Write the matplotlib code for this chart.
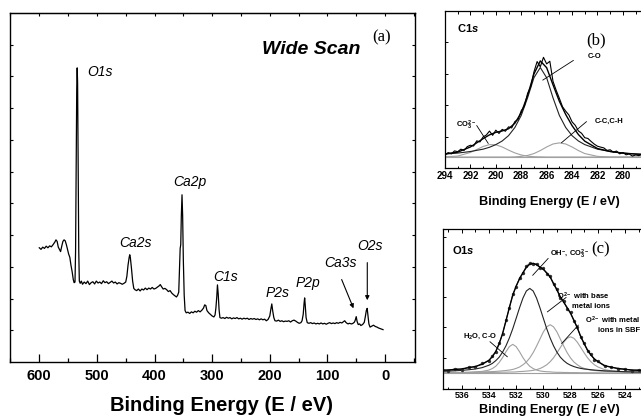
import matplotlib
matplotlib.use("Agg")
import matplotlib.pyplot as plt
from matplotlib.ticker import MultipleLocator

plt.rcParams['font.family'] = ['Liberation Sans', 'DejaVu Sans']
plt.rcParams['mathtext.fontset'] = 'custom'
plt.rcParams['mathtext.rm'] = 'Liberation Sans:bold'
plt.rcParams['mathtext.bf'] = 'Liberation Sans:bold'
plt.rcParams['mathtext.it'] = 'Liberation Sans:italic:bold'
plt.rcParams['mathtext.default'] = 'rm'

# ---- (a) wide scan ----
wide_be = [
    600, 597, 594, 591, 588, 585, 582, 579, 576, 573,
    571, 569, 567, 565, 563, 561, 559, 557, 555, 553,
    551, 549, 547, 545, 543, 541, 539.5, 538, 537, 536,
    535, 534.2, 533.5, 532.5, 531.5, 530.5, 529, 527, 525, 522,
    519, 516, 513, 510, 507, 504, 501, 498, 495, 492,
    489, 486, 483, 480, 477, 474, 471, 468, 465, 462,
    459, 456, 453, 450, 448, 446, 444, 443, 442, 440,
    438, 436, 434, 431, 428, 425, 422, 419, 416, 413,
    410, 407, 404, 401, 398, 395, 392, 390, 388, 385,
    382, 379, 376, 373, 370, 367, 364, 362, 360, 358,
    356.5, 355.5, 354.5, 353.5, 352.3, 351.2, 350, 348.5, 347, 345,
    342, 339, 336, 333, 330, 327, 324, 321, 318, 315,
    313, 311, 309, 306, 303, 300, 297, 295, 293.5, 292,
    290.8, 289.5, 288, 286.5, 284, 281, 278, 275, 272, 269,
    266, 263, 260, 257, 254, 251, 248, 245, 242, 239,
    236, 233, 230, 227, 224, 221, 218, 215, 212, 209,
    206, 203, 200, 198, 196.5, 195, 193, 191, 188, 185,
    182, 179, 176, 173, 170, 167, 164, 161, 158, 155,
    152, 149, 146, 144, 142, 140.5, 139.5, 138.5, 137, 135,
    132, 129, 126, 123, 120, 117, 114, 111, 108, 105,
    102, 99, 96, 93, 90, 87, 84, 81, 78, 75,
    72, 70, 68, 66, 64, 62, 58, 55.5, 53, 51.5,
    50, 48.5, 46.5, 44, 42, 39, 36, 34, 32.5, 31,
    29.5, 28, 26, 23, 20, 17, 14, 11, 8, 5,
    3.5]
wide_counts = [
    3.60, 3.55, 3.62, 3.58, 3.65, 3.60, 3.66, 3.63, 3.70, 3.78,
    3.85, 3.80, 3.62, 3.55, 3.48, 3.65, 3.80, 3.85, 3.82, 3.70,
    3.55, 3.40, 3.30, 3.05, 2.85, 2.60, 2.50, 2.52, 3.50, 6.00,
    8.60, 9.27, 8.80, 6.00, 3.50, 2.55, 2.48, 2.55, 2.45, 2.52,
    2.47, 2.55, 2.44, 2.50, 2.53, 2.46, 2.55, 2.49, 2.52, 2.47,
    2.56, 2.50, 2.53, 2.47, 2.51, 2.55, 2.49, 2.52, 2.46, 2.50,
    2.48, 2.45, 2.48, 2.52, 2.70, 3.05, 3.30, 3.38, 3.30, 2.95,
    2.55, 2.32, 2.28, 2.25, 2.30, 2.24, 2.30, 2.27, 2.33, 2.28,
    2.33, 2.30, 2.35, 2.30, 2.32, 2.36, 2.40, 2.44, 2.38, 2.30,
    2.32, 2.28, 2.22, 2.25, 2.17, 2.12, 2.08, 2.05, 2.10, 2.20,
    3.00, 3.58, 3.70, 4.60, 5.27, 4.60, 3.20, 2.10, 1.62, 1.55,
    1.57, 1.53, 1.58, 1.55, 1.60, 1.57, 1.62, 1.58, 1.63, 1.70,
    1.80, 1.78, 1.62, 1.55, 1.50, 1.45, 1.42, 1.48, 1.70, 2.05,
    2.43, 2.15, 1.65, 1.40, 1.38, 1.40, 1.37, 1.41, 1.38, 1.40,
    1.36, 1.39, 1.37, 1.40, 1.36, 1.38, 1.35, 1.38, 1.36, 1.38,
    1.34, 1.37, 1.35, 1.37, 1.34, 1.36, 1.33, 1.36, 1.33, 1.35,
    1.30, 1.34, 1.45, 1.68, 1.83, 1.62, 1.40, 1.30, 1.29, 1.32,
    1.28, 1.30, 1.27, 1.29, 1.28, 1.30, 1.26, 1.30, 1.32, 1.29,
    1.25, 1.22, 1.24, 1.30, 1.50, 1.85, 2.02, 1.80, 1.40, 1.24,
    1.22, 1.24, 1.21, 1.23, 1.20, 1.22, 1.20, 1.23, 1.20, 1.22,
    1.19, 1.22, 1.24, 1.21, 1.23, 1.21, 1.24, 1.22, 1.25, 1.23,
    1.27, 1.30, 1.25, 1.22, 1.20, 1.22, 1.20, 1.22, 1.26, 1.33,
    1.43, 1.28, 1.18, 1.20, 1.15, 1.18, 1.25, 1.45, 1.62, 1.69,
    1.45, 1.20, 1.10, 1.13, 1.16, 1.12, 1.10, 1.07, 1.05, 1.03,
    1.02]
wide_ticks = [600, 500, 400, 300, 200, 100, 0]
wide_labels = ['O1s', 'Ca2s', 'Ca2p', 'C1s', 'P2s', 'P2p', 'Ca3s', 'O2s']
wide_label_be = [517.3, 433.3, 338.9, 277.3, 187.2, 134.3, 77.1, 26.0]
wide_label_y = [9.15, 3.75, 5.68, 2.68, 2.18, 2.49, 3.12, 3.66]

# ---- (b) C1s ----
b_fit_be = [294, 293, 292, 291, 290.5, 290, 289.5, 289, 288.5, 288, 287.5, 287,
            286.5, 286, 285.5, 285, 284.5, 284, 283.5, 283, 282, 281, 280, 279, 278]
b_co = [8.9, 9.5, 10.5, 12.0, 13.2, 14.9, 17.2, 20.6, 25.8, 33.5, 44.7, 57.5,
        64.0, 57.5, 44.7, 33.5, 25.8, 20.6, 17.2, 14.9, 12.0, 10.5, 9.5, 8.9, 8.5]
b_co3 = [7.1, 7.6, 9.9, 13.7, 14.9, 14.8, 13.4, 11.4, 9.6, 8.3, 7.5, 7.2,
         7.1, 7.0, 7.0, 7.0, 7.0, 7.0, 7.0, 7.0, 7.0, 7.0, 7.0, 7.0, 7.0]
b_cc = [7.0, 7.0, 7.0, 7.0, 7.0, 7.0, 7.0, 7.0, 7.1, 7.4, 8.0, 9.2,
        11.1, 13.4, 15.3, 16.0, 15.3, 13.4, 11.1, 9.2, 7.4, 7.0, 7.0, 7.0, 7.0]
b_fit = [9.0, 10.1, 13.4, 18.7, 21.1, 22.7, 23.6, 25.0, 28.5, 35.2, 46.2, 59.9,
         68.2, 63.9, 53.0, 42.5, 34.1, 27.0, 21.3, 17.1, 12.4, 10.5, 9.5, 8.9, 8.5]
b_baseline = 7.0
b_data_be = [294.0, 293.75, 293.5, 293.25, 293.0, 292.75, 292.5, 292.25, 292.0,
             291.75, 291.5, 291.25, 291.0, 290.75, 290.5, 290.25, 290.0,
             289.75, 289.5, 289.25, 289.0, 288.75, 288.5, 288.25, 288.0,
             287.75, 287.5, 287.25, 287.0, 286.75, 286.5, 286.25, 286.0,
             285.75, 285.5, 285.25, 285.0, 284.75, 284.5, 284.25, 284.0,
             283.75, 283.5, 283.25, 283.0, 282.75, 282.5, 282.25, 282.0,
             281.75, 281.5, 281.25, 281.0, 280.75, 280.5, 280.25, 280.0,
             279.75, 279.5, 279.25, 279.0, 278.75, 278.5]
b_data = [8.2, 9.8, 9.0, 10.9, 10.4, 12.0, 11.2, 13.6, 14.5, 14.0, 17.3, 16.6,
          19.8, 21.0, 23.5, 20.8, 24.1, 22.0, 24.6, 23.4, 26.2, 25.5, 29.6, 30.9,
          36.5, 39.4, 47.5, 51.8, 61.2, 67.8, 64.5, 70.5, 66.3, 68.0, 55.2, 49.5,
          44.4, 39.0, 36.2, 33.8, 29.4, 27.2, 23.6, 22.1, 19.3, 18.8, 16.9, 15.2,
          13.9, 13.3, 12.8, 11.2, 11.6, 10.1, 10.8, 9.0, 9.9, 8.4, 8.9, 7.6,
          8.3, 7.9, 8.5]
b_ticks = [294, 292, 290, 288, 286, 284, 282, 280]

# ---- (c) O1s (heights above the flat background) ----
c_fit_be = [537.5, 537.0, 536.5, 536.0, 535.5, 535.0, 534.5,
            534.0, 533.75, 533.5, 533.25, 533.0, 532.75, 532.5, 532.25, 532.0,
            531.75, 531.5, 531.25, 531.0, 530.75, 530.5, 530.25, 530.0,
            529.75, 529.5, 529.25, 529.0, 528.75, 528.5, 528.25, 528.0,
            527.75, 527.5, 527.25, 527.0, 526.75, 526.5, 526.25, 526.0,
            525.5, 525.0, 524.5, 524.0, 523.5, 523.0, 522.5, 522.0]
c_h2o = [0.2, 0.3, 0.3, 0.4, 0.5, 0.8, 1.1,
         2.0, 3.0, 4.5, 7.0, 10.2, 14.1, 17.5, 19.0, 17.5, 14.1, 10.2, 7.0, 4.5,
         3.0, 2.0, 1.4, 1.1, 0.9, 0.8, 0.6, 0.5, 0.5, 0.4, 0.4, 0.3, 0.3, 0.3,
         0.2, 0.2, 0.2, 0.2, 0.2, 0.2,
         0.1, 0.1, 0.1, 0.1, 0.1, 0.1, 0.1, 0.1]
c_oh = [1.1, 1.3, 1.5, 1.8, 2.2, 2.7, 3.6,
        5.2, 6.4, 8.2, 10.5, 13.8, 18.0, 23.2, 29.3, 36.2, 43.2, 49.6, 54.3, 56.0,
        54.3, 49.6, 43.2, 36.2, 29.3, 23.2, 18.0, 13.8, 10.5, 8.2, 6.4, 5.2, 4.3,
        3.6, 3.1, 2.7, 2.5, 2.2, 2.0, 1.8,
        1.5, 1.3, 1.1, 0.9, 0.8, 0.7, 0.6, 0.6]
c_base = [0.3, 0.3, 0.3, 0.4, 0.5, 0.6, 0.8,
          0.9, 1.0, 1.1, 1.3, 1.5, 1.7, 2.0, 2.4, 3.1, 4.0, 5.5, 7.3, 10.0,
          13.5, 17.8, 22.5, 27.2, 30.6, 32.0, 30.6, 27.2, 22.5, 17.8, 13.5, 10.0,
          7.3, 5.5, 4.0, 3.1, 2.4, 2.0, 1.7, 1.5,
          1.1, 0.9, 0.8, 0.6, 0.5, 0.4, 0.3, 0.3]
c_sbf = [0.2, 0.2, 0.2, 0.2, 0.3, 0.3, 0.3,
         0.4, 0.4, 0.5, 0.5, 0.6, 0.6, 0.7, 0.7, 0.8, 1.0, 1.1, 1.3, 1.5,
         1.8, 2.3, 3.0, 4.1, 5.5, 7.5, 10.1, 13.4, 16.9, 20.4, 23.0, 24.0,
         23.0, 20.4, 16.9, 13.4, 10.1, 7.5, 5.5, 4.1,
         2.3, 1.5, 1.1, 0.8, 0.7, 0.6, 0.5, 0.4]
c_fit = [1.8, 2.1, 2.3, 2.8, 3.5, 4.4, 5.8,
         8.5, 10.8, 14.3, 19.3, 26.1, 34.4, 43.4, 51.4, 57.6, 62.3, 66.4, 69.9, 72.0,
         72.6, 71.7, 70.1, 68.6, 66.3, 63.5, 59.3, 54.9, 50.4, 46.8, 43.3, 39.5,
         34.9, 29.8, 24.2, 19.4, 15.2, 11.9, 9.4, 7.6,
         5.0, 3.8, 3.1, 2.4, 2.1, 1.8, 1.5, 1.4]
c_data = [2.6, 1.5, 3.0, 2.2, 4.1, 3.9, 6.5,
          8.0, 11.6, 13.8, 20.0, 25.6, 35.1, 42.8, 52.3, 57.0, 63.1, 66.0, 70.8, 72.6,
          71.9, 72.3, 69.5, 69.2, 65.7, 64.1, 58.6, 55.6, 49.8, 47.5, 42.6, 40.1,
          34.3, 30.4, 23.6, 19.9, 14.6, 12.4, 8.9, 8.0,
          4.5, 4.3, 2.6, 2.9, 1.6, 2.2, 1.2, 1.7]
c_baseline = 9.7
c_ticks = [536, 534, 532, 530, 528, 526, 524]

W, H = 641, 419
fig = plt.figure(figsize=(W / 100, H / 100), dpi=100)


def px_axes(left, top, right, bottom):
    # axes placed by pixel edges of the 641x419 canvas
    return fig.add_axes([left / W, 1 - bottom / H, (right - left) / W, (bottom - top) / H])


def style_spines(ax, lw):
    for s in ax.spines.values():
        s.set_linewidth(lw)


# ===== panel (a) =====
ax = px_axes(10, 13, 415, 362)
ax.plot(wide_be, wide_counts, color='black', lw=0.9)
ax.set_xlim(650.8, -52)
ax.set_ylim(0, 11)
ax.set_xticks(wide_ticks)
ax.set_xticklabels([str(t) for t in wide_ticks], fontweight='bold', fontsize=10.5)
ax.xaxis.set_minor_locator(MultipleLocator(50))
ax.tick_params(axis='x', which='major', direction='in', length=6, width=0.9, pad=5)
ax.tick_params(axis='x', which='minor', direction='in', length=3, width=0.9)
ax.set_yticks(range(1, 11))
ax.tick_params(axis='y', direction='in', length=2.5, width=0.8,
               left=True, right=True, labelleft=False)
top = ax.secondary_xaxis('top')
top.xaxis.set_major_locator(MultipleLocator(50))
top.tick_params(direction='in', length=2.5, width=0.8, labeltop=False)
style_spines(ax, 1.0)

for name, e, y in zip(wide_labels, wide_label_be, wide_label_y):
    ha = 'left' if name == 'O1s' else 'center'
    ax.text(e, y, name, style='italic', fontsize=10, ha=ha, va='center')
ax.annotate('', xy=(52.9, 1.61), xytext=(77.1, 2.68),
            arrowprops=dict(arrowstyle='-|>', color='black', lw=0.8, mutation_scale=6))
ax.annotate('', xy=(30.8, 1.86), xytext=(30.8, 3.22),
            arrowprops=dict(arrowstyle='-|>', color='black', lw=0.8, mutation_scale=6))
ax.text(128.3, 9.84, 'Wide Scan', fontsize=14, fontweight='bold', style='italic',
        ha='center', va='center')
ax.text(6.1, 10.22, '(a)', family='Liberation Serif', fontsize=12, ha='center', va='center')
fig.text(221 / W, 1 - 405 / H, 'Binding Energy (E / eV)', fontsize=14.5,
         fontweight='bold', ha='center', va='center')

grey = '#a0a0a0'

# ===== panel (b) =====
axb = px_axes(445, 11, 661, 168)
axb.axhline(b_baseline, color=grey, lw=0.8)
axb.plot(b_fit_be, b_co3, color=grey, lw=0.8)
axb.plot(b_fit_be, b_cc, color=grey, lw=0.8)
axb.plot(b_fit_be, b_co, color='#222222', lw=0.8)
axb.plot(b_data_be, b_data, color='black', lw=0.8)
axb.plot(b_fit_be, b_fit, color='black', lw=1.0)
axb.set_xlim(294, 277.0)
axb.set_ylim(0, 100)
axb.set_xticks(b_ticks)
axb.set_xticklabels([str(t) for t in b_ticks], fontweight='bold', fontsize=7)
axb.xaxis.set_minor_locator(MultipleLocator(1))
axb.tick_params(axis='x', which='major', direction='in', length=3, width=0.7, pad=2, top=True)
axb.tick_params(axis='x', which='minor', direction='in', length=1.8, width=0.7, top=True)
axb.set_yticks([20, 40, 60, 80])
axb.tick_params(axis='y', direction='in', length=2, width=0.7, labelleft=False)
style_spines(axb, 0.9)
axb.text(293.06, 89, r'C$\mathit{1s}$', fontsize=8, fontweight='bold', ha='left', va='center')
axb.text(282.1, 81.5, '(b)', family='Liberation Serif', fontsize=12, ha='center', va='center')
axb.text(282.8, 71.3, 'C-O', fontsize=5.5, fontweight='bold', ha='left', va='center')
axb.plot([286.3, 283.9], [56, 68.5], color='black', lw=0.6)
axb.text(293.1, 27.4, r'CO$_3^{2-}$', fontsize=5.5, fontweight='bold', ha='left', va='center')
axb.plot([291.5, 290.6], [27.0, 15.7], color='black', lw=0.6)
axb.text(282.2, 29.5, 'C-C,C-H', fontsize=5.5, fontweight='bold', ha='left', va='center')
axb.plot([282.87, 284.83], [29.5, 16.1], color='black', lw=0.6)
fig.text(549 / W, 1 - 202 / H, 'Binding Energy (E / eV)', fontsize=9.2,
         fontweight='bold', ha='center', va='center')

# ===== panel (c) =====
axc = px_axes(442.7, 229, 661, 388.5)
axc.axhline(c_baseline, color=grey, lw=0.8)
for comp, col in [(c_h2o, grey), (c_base, grey), (c_sbf, grey), (c_oh, '#222222')]:
    axc.plot(c_fit_be, [v + c_baseline for v in comp], color=col, lw=0.8)
axc.plot(c_fit_be, [v + c_baseline for v in c_data], color='#333333', lw=0.6,
         marker='o', ms=1.4)
axc.plot(c_fit_be, [v + c_baseline for v in c_fit], color='black', lw=1.0)
axc.set_xlim(537.4, 521.35)
axc.set_ylim(-0.5, 105)
axc.set_xticks(c_ticks)
axc.set_xticklabels([str(t) for t in c_ticks], fontweight='bold', fontsize=6.3)
axc.xaxis.set_minor_locator(MultipleLocator(1))
axc.tick_params(axis='x', which='major', direction='in', length=3, width=0.7, pad=2, top=True)
axc.tick_params(axis='x', which='minor', direction='in', length=1.8, width=0.7, top=True)
axc.set_yticks([20, 40, 60, 80, 100])
axc.tick_params(axis='y', direction='in', length=2, width=0.7, labelleft=False)
style_spines(axc, 0.9)
axc.text(536.68, 90.9, r'O$\mathit{1s}$', fontsize=8, fontweight='bold', ha='left', va='center')
axc.text(525.8, 91.5, '(c)', family='Liberation Serif', fontsize=12, ha='center', va='center')
axc.text(529.5, 88.0, r'OH$^{-}$, CO$_3^{2-}$', fontsize=5.5, fontweight='bold',
         ha='left', va='center')
axc.plot([530.78, 529.65], [74.4, 85.5], color='black', lw=0.6)
axc.text(525.1, 57.9, 'O$^{2-}$ with base\nmetal ions', fontsize=5.5, fontweight='bold',
         ha='right', va='center', multialignment='right')
axc.plot([529.7, 528.33], [50.2, 59.7], color='black', lw=0.6)
axc.text(522.9, 42.1, 'O$^{2-}$ with metal\nions in SBF', fontsize=5.5, fontweight='bold',
         ha='right', va='center', multialignment='right')
axc.plot([528.65, 527.43], [29.3, 41.4], color='black', lw=0.6)
axc.text(535.9, 33.7, 'H$_2$O, C-O', fontsize=5.5, fontweight='bold', ha='left', va='center')
axc.plot([533.92, 532.65], [30.4, 20.5], color='black', lw=0.6)
fig.text(549 / W, 1 - 410 / H, 'Binding Energy (E / eV)', fontsize=9.2,
         fontweight='bold', ha='center', va='center')

fig.savefig('out.png', dpi=100)
